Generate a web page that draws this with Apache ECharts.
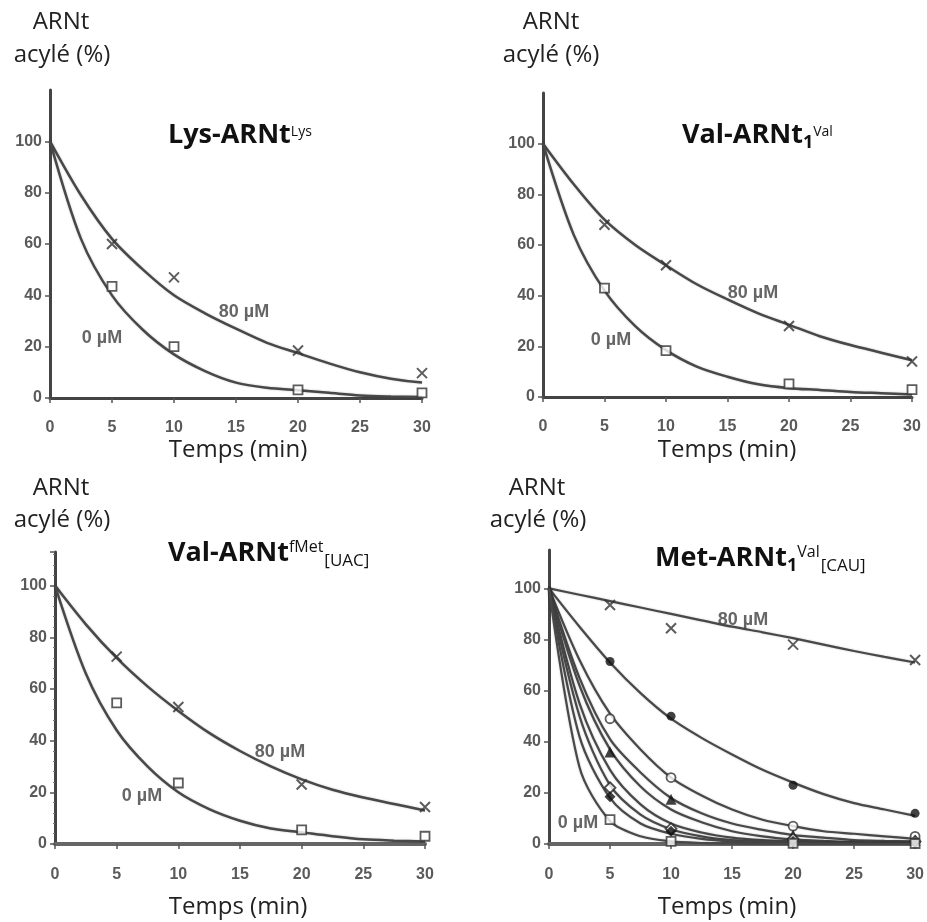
<!DOCTYPE html>
<html><head><meta charset="utf-8">
<script src="https://cdn.jsdelivr.net/npm/echarts@6/dist/echarts.min.js"></script>
<style>html,body{margin:0;padding:0;background:#fff}#c{width:927px;height:922px}</style>
</head><body><div id="c"></div>
<script>
// ---- data ----
const CURVE_T = [0, 2.5, 5, 7.5, 10, 12.5, 15, 17.5, 20, 22.5, 25, 27.5, 30];
const MARK_T = [5, 10, 20, 30];
const X_TICKS = [0, 5, 10, 15, 20, 25, 30];

// Panel 1: Lys-ARNtLys
const lys80Curve = [100, 79, 62, 50, 40, 33, 27, 21.5, 17.5, 13.5, 10, 7.5, 6];
const lys0Curve  = [100, 62, 40, 26.5, 17, 10.5, 6, 4, 3, 2, 1, 0.6, 0.4];
const lys80Mark  = [60, 47, 18.5, 9.7];
const lys0Mark   = [43.5, 20, 3.2, 2];

// Panel 2: Val-ARNt1Val
const val80Curve = [100, 84, 70, 60, 52, 44.5, 38.5, 33, 28.5, 24, 20.5, 17.5, 14.5];
const val0Curve  = [100, 64, 42, 28, 18.5, 12, 8, 5, 3.5, 2.8, 2, 1.5, 1];
const val80Mark  = [68, 52, 28, 14];
const val0Mark   = [43, 18.3, 5.2, 2.9];

// Panel 3: Val-ARNtfMet[UAC]
const fmet80Curve = [100, 85, 72, 61, 51.5, 43, 36, 30, 25, 21, 18, 15.5, 13];
const fmet0Curve  = [100, 66, 44, 30, 20, 13.5, 9, 6, 4.5, 3, 1.8, 1.3, 1];
const fmet80Mark  = [72.5, 53, 23, 14.3];
const fmet0Mark   = [54.6, 23.6, 5.5, 3];

// Panel 4: Met-ARNt1Val[CAU]
const met80Curve = [100, 97.5, 95, 92.5, 90, 87.5, 85, 82.8, 80.5, 78, 75.5, 73.2, 71];
const metACurve  = [100, 85, 71, 59, 49, 41.5, 35, 29, 24, 19.5, 16, 13.5, 11];
const metBCurve  = [100, 72, 51, 37, 26, 19, 13.5, 9.5, 7, 5, 4, 3, 2];
const metCCurve  = [100, 65, 41, 28, 18, 12, 8, 5.5, 3.5, 2.5, 1.5, 1.2, 1];
const metXCurve  = [100, 62, 37, 22.5, 13.5, 8.5, 5, 3, 1.8, 1.2, 0.8, 0.5, 0.3];
const metDCurve  = [100, 55, 29, 15.5, 8, 4.5, 2.5, 1.5, 1, 0.6, 0.4, 0.3, 0.2];
const metECurve  = [100, 50, 23, 11.5, 5.8, 3, 1.5, 1, 0.6, 0.4, 0.3, 0.2, 0.1];
const metFCurve  = [100, 42, 18, 8, 4, 2, 1, 0.6, 0.4, 0.3, 0.2, 0.1, 0.1];
const met0Curve  = [100, 30, 9, 3, 1, 0.4, 0.2, 0, 0, 0, 0, 0, 0];
const met80Mark  = [93.5, 84.4, 78, 72];
const metAMark   = [71.4, 50, 23, 12];
const metBMark   = [49, 26, 7, 3];
const metCMark   = [36, 17.5, 3.5, 1.5];
const metDMark   = [22, 6, 2, 1];
const metEMark   = [18.5, 5, 1, 0.5];
const met0Mark   = [9.5, 1, 0.3, 0.2];

// ---- layout ----
const grids = [
  {left: 50, top: 90, width: 372, height: 308},
  {left: 543, top: 93, width: 369, height: 304},
  {left: 55, top: 552, width: 370, height: 292},
  {left: 549, top: 550, width: 371, height: 294}
];
const yMax = [120, 120, 113, 115];

const LINE = '#484848';
const AX = '#444';
const tickFont = {color: '#5a5a5a', fontFamily: 'Liberation Sans', fontWeight: 'bold', fontSize: 16};

const xAxes = grids.map((g, i) => ({
  type: 'value', gridIndex: i, min: 0, max: 30, interval: 5,
  axisLine: {lineStyle: {color: i >= 2 ? '#666' : AX, width: i >= 2 ? 4 : 3}},
  axisTick: {show: true, inside: false, length: 5, lineStyle: {color: '#555', width: 1.5}},
  axisLabel: Object.assign({margin: i >= 2 ? 23 : 22, formatter: v => X_TICKS.includes(v) ? String(v) : ''}, tickFont),
  splitLine: {show: false}
}));
const yAxes = grids.map((g, i) => ({
  type: 'value', gridIndex: i, min: 0, max: yMax[i], interval: 20,
  axisLine: {show: true, lineStyle: {color: AX, width: 3}},
  axisTick: {show: true, length: 5, lineStyle: {color: '#555', width: 1.5}},
  minorTick: {show: i === 2, splitNumber: 5, length: 2, lineStyle: {color: '#777'}},
  axisLabel: Object.assign({margin: 8, formatter: v => v <= 100 ? String(v) : '', showMaxLabel: false}, tickFont),
  splitLine: {show: false}
}));

function curve(i, vals, w) {
  return {type: 'line', xAxisIndex: i, yAxisIndex: i, smooth: 0.3,
    showSymbol: false, silent: true, z: 2,
    lineStyle: {color: LINE, width: w || 2.5, shadowColor: 'rgba(0,0,0,0.25)', shadowBlur: 2},
    data: CURVE_T.map((t, k) => [t, vals[k]])};
}
const CROSS = 'path://M0,0L10,10M10,0L0,10';
function marks(i, vals, kind) {
  const s = {type: 'scatter', xAxisIndex: i, yAxisIndex: i, z: 5, silent: true,
    data: MARK_T.map((t, k) => [t, vals[k]])};
  if (kind === 'x') { s.symbol = CROSS; s.symbolSize = 10; s.itemStyle = {color: 'rgba(0,0,0,0)', borderColor: '#333', borderWidth: 2}; }
  else if (kind === 'sq') { s.symbol = 'rect'; s.symbolSize = 9; s.itemStyle = {color: '#fff', borderColor: '#333', borderWidth: 1.8}; }
  else if (kind === 'dot') { s.symbol = 'circle'; s.symbolSize = 9; s.itemStyle = {color: '#111'}; }
  else if (kind === 'ocirc') { s.symbol = 'circle'; s.symbolSize = 9; s.itemStyle = {color: '#fff', borderColor: '#333', borderWidth: 1.8}; }
  else if (kind === 'tri') { s.symbol = 'triangle'; s.symbolSize = 11; s.itemStyle = {color: '#111'}; }
  else if (kind === 'odia') { s.symbol = 'diamond'; s.symbolSize = 11; s.itemStyle = {color: '#fff', borderColor: '#222', borderWidth: 1.8}; }
  else if (kind === 'fdia') { s.symbol = 'diamond'; s.symbolSize = 11; s.itemStyle = {color: '#111'}; }
  return s;
}

const series = [
  curve(0, lys80Curve), curve(0, lys0Curve), marks(0, lys80Mark, 'x'), marks(0, lys0Mark, 'sq'),
  curve(1, val80Curve), curve(1, val0Curve), marks(1, val80Mark, 'x'), marks(1, val0Mark, 'sq'),
  curve(2, fmet80Curve), curve(2, fmet0Curve), marks(2, fmet80Mark, 'x'), marks(2, fmet0Mark, 'sq'),
  curve(3, met80Curve, 2.2), curve(3, metACurve, 2.2), curve(3, metBCurve, 2.2), curve(3, metCCurve, 2.2),
  curve(3, metXCurve, 2.2), curve(3, metDCurve, 2.2), curve(3, metECurve, 2.2), curve(3, metFCurve, 2.2),
  curve(3, met0Curve, 2.2),
  marks(3, met80Mark, 'x'), marks(3, metAMark, 'dot'), marks(3, metBMark, 'ocirc'), marks(3, metCMark, 'tri'),
  marks(3, metDMark, 'odia'), marks(3, metEMark, 'fdia'), marks(3, met0Mark, 'sq')
];

// ---- texts ----
const SANS = '"Open Sans", "DejaVu Sans", sans-serif';
function txt(x, y, text, size) {
  return {type: 'text', x: x, y: y, silent: true,
    style: {text: text, font: (size || 24) + 'px ' + SANS, fill: '#222', align: 'center', verticalAlign: 'middle'}};
}
function small(x, y, text) {
  return {type: 'text', x: x, y: y, silent: true,
    style: {text: text, font: 'bold 18px "Liberation Sans", sans-serif', fill: '#666', align: 'center', verticalAlign: 'middle'}};
}
const graphic = [
  txt(61, 22, 'ARNt'), txt(62, 55, 'acylé (%)'),
  txt(551, 22, 'ARNt'), txt(551, 55, 'acylé (%)'),
  txt(61, 488, 'ARNt'), txt(62, 520, 'acylé (%)'),
  txt(537, 488, 'ARNt'), txt(538, 520, 'acylé (%)'),
  txt(238, 450, 'Temps (min)'), txt(727, 450, 'Temps (min)'),
  txt(238, 907, 'Temps (min)'), txt(727, 907, 'Temps (min)'),
  small(244, 312, '80 µM'), small(102, 338, '0 µM'),
  small(753, 293, '80 µM'), small(611, 340, '0 µM'),
  small(280, 752, '80 µM'), small(142, 796, '0 µM'),
  small(743, 620, '80 µM'), small(578, 823, '0 µM')
];

const R = {
  a: {fontFamily: 'Open Sans', fontWeight: 'bold', fontSize: 27, color: '#111', lineHeight: 34},
  sup: {fontFamily: 'Open Sans', fontWeight: 'normal', fontSize: 14, color: '#111', verticalAlign: 'top', lineHeight: 34, padding: [7, 0, 0, 0]},
  sub1: {fontFamily: 'Open Sans', fontWeight: 'bold', fontSize: 18, color: '#111', verticalAlign: 'bottom', lineHeight: 34},
  supB: {fontFamily: 'Open Sans', fontWeight: 'normal', fontSize: 16, color: '#111', verticalAlign: 'top', lineHeight: 34, padding: [3, 0, 0, 0]},
  sub: {fontFamily: 'Open Sans', fontWeight: 'normal', fontSize: 17, color: '#111', verticalAlign: 'bottom', lineHeight: 34, padding: [0, 0, 0, 1]}
};
const titles = [
  {text: '{a|Lys-ARNt}{sup|Lys}', left: 168, top: 118},
  {text: '{a|Val-ARNt}{sub1|1}{sup|Val}', left: 682, top: 118},
  {text: '{a|Val-ARNt}{supB|fMet}{sub|[UAC]}', left: 168, top: 536},
  {text: '{a|Met-ARNt}{sub1|1}{supB|Val}{sub|[CAU]}', left: 655, top: 541}
].map(t => Object.assign(t, {padding: 0, textStyle: {rich: R}}));

const chart = echarts.init(document.getElementById('c'), null, {renderer: 'canvas'});
chart.setOption({
  animation: false,
  backgroundColor: '#fff',
  title: titles,
  grid: grids,
  xAxis: xAxes,
  yAxis: yAxes,
  series: series,
  graphic: graphic
});
</script>
</body></html>
